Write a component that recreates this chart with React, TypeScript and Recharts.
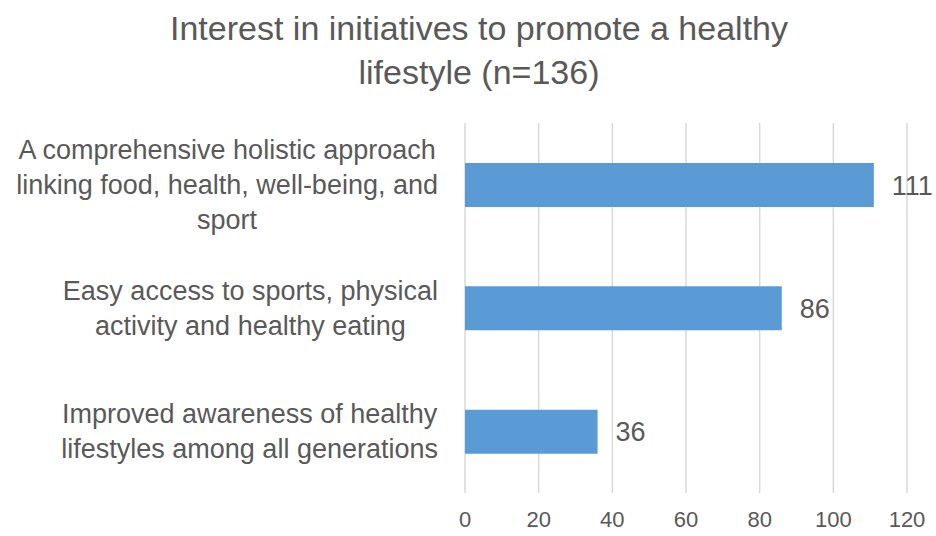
import React from "react";
import { BarChart, Bar, XAxis, YAxis, CartesianGrid, LabelList } from "recharts";

const categories: string[][] = [
  ["A comprehensive holistic approach", "linking food, health, well-being, and", "sport"],
  ["Easy access to sports, physical", "activity and healthy eating"],
  ["Improved awareness of healthy", "lifestyles among all generations"],
];
const values: number[] = [111, 86, 36];
const xTicks: number[] = [0, 20, 40, 60, 80, 100, 120];
const titleLines: string[] = ["Interest in initiatives to promote a healthy", "lifestyle (n=136)"];

const data = categories.map((c, i) => ({ name: c.join("|"), value: values[i] }));

const FONT = "Liberation Sans, Arial, sans-serif";
const TEXT = "#595959";
const LABEL_SIZE = 27;

let ctx: CanvasRenderingContext2D | null = null;
function measure(s: string, size: number): number {
  if (!ctx) ctx = document.createElement("canvas").getContext("2d");
  if (!ctx) return s.length * size * 0.5;
  ctx.font = `${size}px ${FONT}`;
  return ctx.measureText(s).width;
}

const YTick = (props: any) => {
  const { x, y, payload } = props;
  const lines: string[] = String(payload.value).split("|");
  const lh = 35;
  const w = Math.max(...lines.map((l) => measure(l, LABEL_SIZE)));
  const right = x - 19;
  const cx = right - w / 2;
  const start = y - ((lines.length - 1) * lh) / 2;
  return (
    <g>
      {lines.map((l, i) => (
        <text key={i} x={cx} y={start + i * lh} textAnchor="middle" dominantBaseline="central"
          fill={TEXT} fontSize={LABEL_SIZE} fontFamily={FONT}>
          {l}
        </text>
      ))}
    </g>
  );
};

export default function App() {
  return (
    <div style={{ position: "fixed", left: 0, top: 0, width: 936, height: 536, background: "#fff" }}>
      <div style={{ position: "absolute", left: 0, top: 0, width: 958, textAlign: "center", fontFamily: FONT, color: TEXT, fontSize: 34 }}>
        {titleLines.map((t, i) => (
          <div key={i} style={{ position: "absolute", left: 0, width: 958, top: 8 + i * 44, lineHeight: "40px" }}>{t}</div>
        ))}
      </div>
      <div style={{ position: "absolute", left: 0, top: 0 }}>
        <BarChart width={936} height={536} data={data} layout="vertical"
          margin={{ top: 123, right: 29, bottom: 0, left: 0 }} barSize={44}>
          <CartesianGrid horizontal={false} stroke="#d9d9d9" strokeWidth={1.5} />
          <XAxis type="number" domain={[0, 120]} ticks={xTicks} axisLine={false} tickLine={false}
            height={43} tickMargin={12} tick={{ fill: TEXT, fontSize: 22, fontFamily: FONT }} interval={0} />
          <YAxis type="category" dataKey="name" width={465} axisLine={false} tickLine={false} tick={<YTick />} interval={0} />
          <Bar dataKey="value" fill="#5B9BD5" isAnimationActive={false}>
            <LabelList dataKey="value" position="right" offset={18} fill={TEXT} fontSize={27} fontFamily={FONT} />
          </Bar>
        </BarChart>
      </div>
    </div>
  );
}
